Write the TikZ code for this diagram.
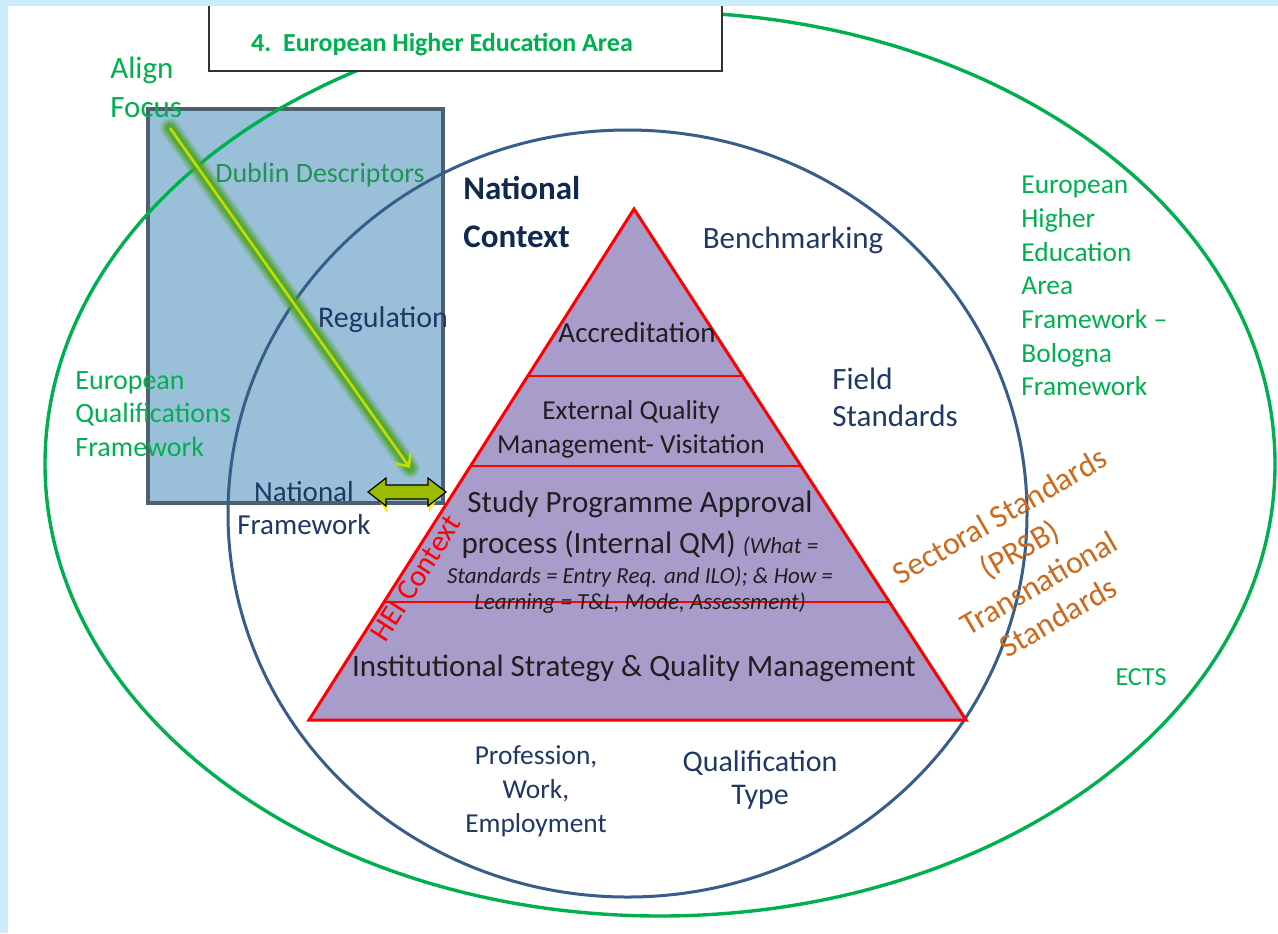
\documentclass[tikz,border=0pt]{standalone}
\usepackage{fontspec}
\setmainfont{Carlito}
\usepackage{tikz}
\usetikzlibrary{arrows.meta}
\usepackage{xcolor}

\definecolor{fond}{HTML}{CCEBFB}
\definecolor{vertEHEA}{HTML}{00B050}
\definecolor{vertDublin}{HTML}{1E9455}
\definecolor{bleuNat}{HTML}{385D8A}
\definecolor{texteBleu}{HTML}{1F3864}
\definecolor{texteNuit}{HTML}{10294F}
\definecolor{cadreFond}{HTML}{9AC0D9}
\definecolor{cadreBord}{HTML}{4E606E}
\definecolor{pyramide}{HTML}{A89CCB}
\definecolor{orangeSect}{HTML}{CC6A1E}
\definecolor{vertFleche}{HTML}{9BBB00}
\definecolor{jauneFleche}{HTML}{C4DC00}
\definecolor{halo}{HTML}{4FA52A}

% taille de police et interligne en une commande
\newcommand{\taille}[2]{\fontsize{#1}{#2}\selectfont}

\begin{document}
\begin{tikzpicture}[x=0.5pt, y=-0.5pt, % une unité = un pixel, y vers le bas
  every node/.style={inner sep=0pt},
  vert/.style={text=vertEHEA},
  bleu/.style={text=texteBleu},
  noir/.style={text=black!88}]
\useasboundingbox (0,0) rectangle (1278,933);

% Le fond : bande bleu clair et page blanche
\fill[fond] (0,0) rectangle (1278,933);
\fill[white] (8,6) rectangle (1278,933);

% Le cadre bleu (Align Focus)
\filldraw[fill=cadreFond, draw=cadreBord, line width=2pt] (148,109) rectangle (443,503);

% L'ellipse verte (EHEA) et le cercle du contexte national
\draw[vertEHEA, line width=1.7pt] (660,464) ellipse [x radius=307.5pt, y radius=226pt];
\draw[bleuNat, line width=1.5pt] (627.5,513.5) ellipse [x radius=199.75pt, y radius=191.75pt];

% La pyramide
\coordinate (sommet) at (634,209);
\coordinate (gauche) at (309,720);
\coordinate (droite) at (966,720);
\fill[pyramide] (sommet) -- (gauche) -- (droite) -- cycle;
% Les étages
\draw[red, line width=0.6pt] (527.8,376) -- (742.5,376);
\draw[red, line width=0.6pt] (470.5,466) -- (801,466);
\draw[red, line width=0.6pt] (384,602) -- (889.3,602);
\draw[red, line width=1.5pt, line join=miter] (sommet) -- (gauche) -- (droite) -- cycle;

% Le titre en haut
\filldraw[fill=white, draw=black!80, line width=0.7pt] (209,6) -- (209,71) -- (722,71) -- (722,6);
\node[vert, font=\taille{13}{16}\bfseries] (titre) at (442,45) {4.~~European Higher Education Area};

% La flèche lumineuse
\coordinate (depart) at (170,128);
\coordinate (arrivee) at (410,468);
\foreach \l/\o in {10/0.15, 8.5/0.22, 7/0.3, 5.5/0.45, 4/0.6}
  \draw[halo, line width=\l pt, line cap=round, opacity=\o] (depart) -- (arrivee);
\draw[jauneFleche, line width=1.3pt, -{Straight Barb[length=5pt, width=9pt]}] (depart) -- (arrivee);

% La double flèche vers la pyramide
\coordinate (lienG) at (368,492);
\coordinate (lienD) at (446,492);
\fill[yellow] (378,499) -- (387,505) -- (387,513) -- cycle;
\fill[yellow] (437,499) -- (429,505) -- (429,513) -- cycle;
\filldraw[fill=vertFleche, draw=black, line width=0.6pt, line join=miter]
  (lienG) -- ++(18,-14) -- ++(0,7) -- ++(42,0) -- ++(0,-7) -- (lienD)
  -- ++(-18,14) -- ++(0,-7) -- ++(-42,0) -- ++(0,7) -- cycle;

% Les textes
\node[vert, font=\taille{15.5}{19.5}, anchor=west, align=left] (focus) at (110,87) {Align\\Focus};
\node[text=vertDublin, font=\taille{14}{17}] (dublin) at (320,175) {Dublin Descriptors};
\node[bleu, font=\taille{15}{18}] (regulation) at (383,320) {Regulation};
\node[vert, font=\taille{14}{16.75}, anchor=west, align=left] (eqf) at (75,414) {European\\Qualifications\\Framework};
\node[bleu, font=\taille{14.5}{16.5}, align=center] (natfw) at (304,508) {National\\Framework};
\node[text=texteNuit, font=\taille{16.5}{24}\bfseries, anchor=west, align=left] (natctx) at (463,212) {National\\Context};
\node[bleu, font=\taille{15.5}{18}] (bench) at (793,240) {Benchmarking};
\node[bleu, font=\taille{15.5}{18.5}, anchor=west, align=left] (field) at (832,397) {Field\\Standards};
\node[vert, font=\taille{13.7}{16.85}, anchor=west, align=left] (ehea) at (1021,286)
  {European\\Higher\\Education\\Area\\Framework --\\Bologna\\Framework};
\node[vert, font=\taille{13}{15}] (ects) at (1141,677) {ECTS};
\node[bleu, font=\taille{13.7}{17}, align=center] (metier) at (536,791) {Profession,\\Work,\\Employment};
\node[bleu, font=\taille{15}{16.5}, align=center] (qualif) at (760,780) {Qualification\\Type};
\node[text=orangeSect, font=\taille{16}{19.5}, align=center, rotate=30] (secteur) at (1029,566)
  {Sectoral Standards\\(PRSB)\\Transnational\\Standards};
\node[text=red, font=\taille{15}{18}, rotate=57.5] (hei) at (416,578) {HEI Context};

% Les textes de la pyramide
\node[noir, font=\taille{14.5}{17}] (accred) at (637,333) {Accreditation};
\node[noir, font=\taille{13.7}{17}, align=center] (externe) at (631,429) {External Quality\\Management- Visitation};
\node[noir, font=\taille{15.5}{20.5}, align=center] (programme) at (640,552)
  {Study Programme Approval\\process (Internal QM) {\taille{11.5}{13}\itshape (What =}\\[-5.5pt]
   {\taille{11.5}{13}\itshape Standards = Entry Req. and ILO); \& How =}\\[-7.5pt]
   {\taille{11.5}{13}\itshape Learning = T\&L, Mode, Assessment)}};
\node[noir, font=\taille{15.5}{18}] (strategie) at (634,668) {Institutional Strategy \& Quality Management};
\end{tikzpicture}
\end{document}
